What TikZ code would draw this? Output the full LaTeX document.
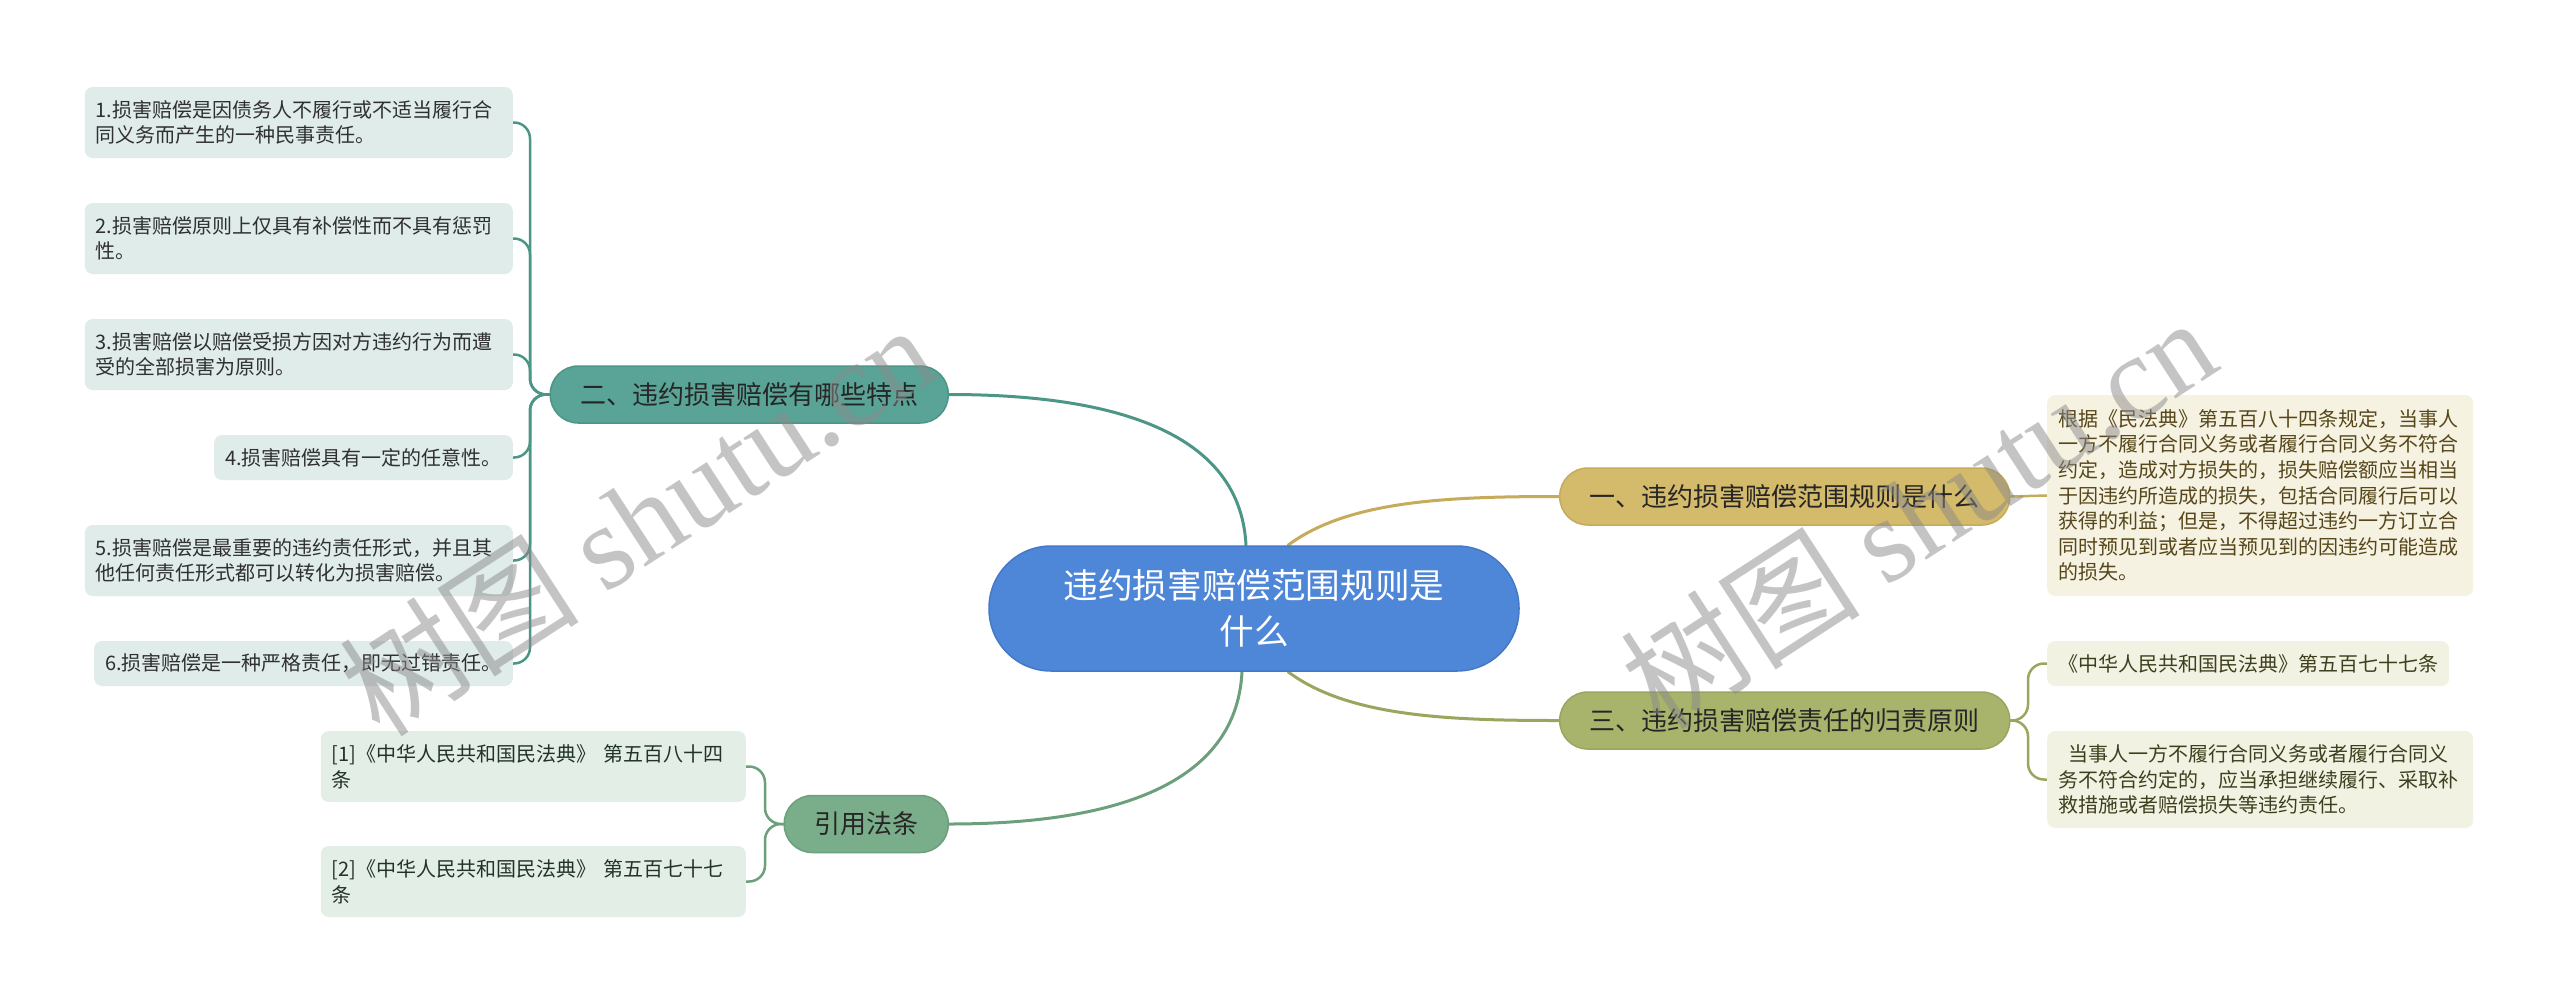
\documentclass[tikz,border=0pt]{standalone}
\usepackage{fontspec}
\setmainfont{Noto Sans CJK SC}
\newfontfamily\wmcjk{Noto Sans CJK SC}
\newfontfamily\wmlat{Liberation Serif}
\usetikzlibrary{backgrounds}
\definecolor{cblue}{HTML}{4E86D8}
\definecolor{cblueb}{HTML}{4579C8}
\definecolor{teal}{HTML}{5AA497}
\definecolor{tealb}{HTML}{4C9687}
\definecolor{tealleaf}{HTML}{DFECEA}
\definecolor{sage}{HTML}{7AAE8A}
\definecolor{sageb}{HTML}{6CA07C}
\definecolor{sageleaf}{HTML}{E3EEE6}
\definecolor{gold}{HTML}{D4BA6B}
\definecolor{goldb}{HTML}{C6AB5A}
\definecolor{goldleaf}{HTML}{F5F2E1}
\definecolor{olive}{HTML}{A8B36B}
\definecolor{oliveb}{HTML}{9AA55E}
\definecolor{oliveleaf}{HTML}{F2F2E3}
\definecolor{txtdark}{HTML}{262626}
\definecolor{txtleaf}{HTML}{303030}
\definecolor{txtgold}{HTML}{56461A}
\definecolor{txtolive}{HTML}{3E3F1E}
\definecolor{txtsage}{HTML}{22332A}
\definecolor{wmgray}{HTML}{8A8A8A}
\begin{document}
\begin{tikzpicture}[x=1pt,y=-1pt,
  leafbase/.style={inner xsep=11pt, inner ysep=0pt, rounded corners=8pt,
    font=\fontsize{20pt}{25.6pt}\selectfont, align=left},
  oneline/.style={minimum height=45pt},
  twoline/.style={minimum height=71pt},
  threeline/.style={minimum height=97pt},
  sevenline/.style={minimum height=201pt},
  tleaf/.style={leafbase, fill=tealleaf, text=txtleaf},
  sleaf/.style={leafbase, fill=sageleaf, text=txtsage},
  gleaf/.style={leafbase, fill=goldleaf, text=txtgold},
  oleaf/.style={leafbase, fill=oliveleaf, text=txtolive},
  mainbr/.style={draw, line width=1.5pt, rounded corners=28pt, minimum height=57pt,
    inner xsep=30pt, inner ysep=0pt, font=\fontsize{26pt}{30pt}\selectfont, text=txtdark},
  centre/.style={draw=cblueb, fill=cblue, line width=1.5pt, rounded corners=62pt,
    minimum width=530pt, minimum height=125pt, align=center, text=white,
    font=\fontsize{34.6pt}{46pt}\selectfont},
  mainconn/.style={line width=3pt, line cap=round},
  leafconn/.style={line width=2.5pt, line cap=round, rounded corners=16pt},
  wmark/.style={rotate=33, text=wmgray, text opacity=0.5,
    font=\fontsize{120pt}{130pt}\selectfont}
]
\useasboundingbox (0,0) rectangle (2560,1005);

% central
\node[centre] (c) at (1254,608.5) {违约损害赔偿范围规则是\\什么};

% main branches
\node[mainbr, fill=teal, draw=tealb, anchor=east] (n2) at (949,394.5) {二、违约损害赔偿有哪些特点};
\node[mainbr, fill=sage, draw=sageb, anchor=east] (ref) at (949,824) {引用法条};
\node[mainbr, fill=gold, draw=goldb, anchor=west] (n1) at (1559,496.5) {一、违约损害赔偿范围规则是什么};
\node[mainbr, fill=olive, draw=oliveb, anchor=west] (n3) at (1559,720.5) {三、违约损害赔偿责任的归责原则};

% left leaves
\node[tleaf, twoline, text width=406pt, anchor=east] (l1) at (513,122.5)
  {1.损害赔偿是因债务人不履行或不适当履行合\\同义务而产生的一种民事责任。};
\node[tleaf, twoline, text width=406pt, anchor=east] (l2) at (513,238.5)
  {2.损害赔偿原则上仅具有补偿性而不具有惩罚\\性。};
\node[tleaf, twoline, text width=406pt, anchor=east] (l3) at (513,354.5)
  {3.损害赔偿以赔偿受损方因对方违约行为而遭\\受的全部损害为原则。};
\node[tleaf, oneline, anchor=east] (l4) at (513,457.5)
  {4.损害赔偿具有一定的任意性。};
\node[tleaf, twoline, text width=406pt, anchor=east] (l5) at (513,560.5)
  {5.损害赔偿是最重要的违约责任形式，并且其\\他任何责任形式都可以转化为损害赔偿。};
\node[tleaf, oneline, anchor=east] (l6) at (513,663.5)
  {6.损害赔偿是一种严格责任，即无过错责任。};

% reference leaves
\node[sleaf, twoline, text width=403pt, anchor=east] (r1) at (746,766.5)
  {[1]《中华人民共和国民法典》 第五百八十四\\条};
\node[sleaf, twoline, text width=403pt, anchor=east] (r2) at (746,881.5)
  {[2]《中华人民共和国民法典》 第五百七十七\\条};

% right leaves
\node[gleaf, sevenline, text width=404pt, anchor=west] (a) at (2047,495.5)
  {根据《民法典》第五百八十四条规定，当事人\\一方不履行合同义务或者履行合同义务不符合\\约定，造成对方损失的，损失赔偿额应当相当\\于因违约所造成的损失，包括合同履行后可以\\获得的利益；但是，不得超过违约一方订立合\\同时预见到或者应当预见到的因违约可能造成\\的损失。};
\node[oleaf, oneline, anchor=west] (b1) at (2047,663.5)
  {《中华人民共和国民法典》第五百七十七条};
\node[oleaf, threeline, text width=404pt, anchor=west] (b2) at (2047,779.5)
  {\hspace*{10pt}当事人一方不履行合同义务或者履行合同义\\务不符合约定的，应当承担继续履行、采取补\\救措施或者赔偿损失等违约责任。};

% spine positions
\coordinate (spl) at (530,0);
\coordinate (spr) at (765,0);
\coordinate (spb) at (2028,0);

\begin{scope}[on background layer]
  \fill[white] (0,0) rectangle (2560,1005);
  % central connectors
  \draw[mainconn, tealb] ([xshift=-8pt]c.north) .. controls +(-6,-120) and +(150,0) .. (n2.east);
  \draw[mainconn, sageb] ([xshift=-12pt]c.south) .. controls +(-6,120) and +(150,0) .. (ref.east);
  \draw[mainconn, goldb] ([xshift=34pt]c.north) .. controls +(60,-45) and +(-110,0) .. (n1.west);
  \draw[mainconn, oliveb] ([xshift=34pt]c.south) .. controls +(60,45) and +(-110,0) .. (n3.west);
  % left leaf connectors
  \foreach \l in {l1,l2,l3,l4,l5,l6}
    \draw[leafconn, tealb] (n2.west) -- (n2.west -| spl) -- (spl |- \l.east) -- (\l.east);
  % reference connectors
  \foreach \l in {r1,r2}
    \draw[leafconn, sageb] (ref.west) -- (ref.west -| spr) -- (spr |- \l.east) -- (\l.east);
  % right connectors
  \draw[leafconn, goldb] (n1.east) -- (a.west);
  \foreach \l in {b1,b2}
    \draw[leafconn, oliveb] (n3.east) -- (n3.east -| spb) -- (spb |- \l.west) -- (\l.west);
\end{scope}

% watermarks
\node[wmark] (wm1) at (637,519) {{\wmcjk 树图} {\wmlat shutu.cn}};
\node[wmark] (wm2) at (1918,512) {{\wmcjk 树图} {\wmlat shutu.cn}};
\end{tikzpicture}
\end{document}
